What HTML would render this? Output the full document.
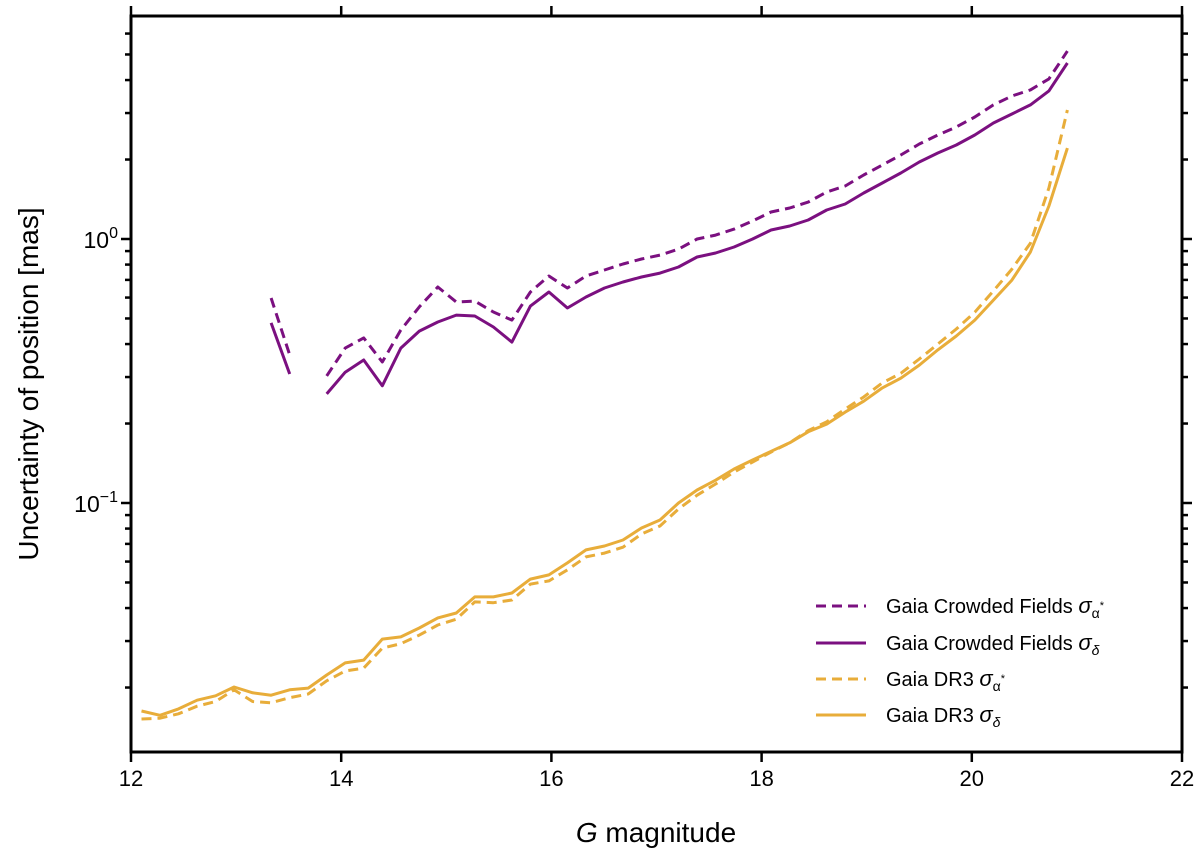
<!DOCTYPE html>
<html><head><meta charset="utf-8"><style>
html,body{margin:0;padding:0;background:#fff;}
svg{display:block;font-family:"Liberation Sans",sans-serif;}
</style></head><body>
<svg id="chart" width="1200" height="858" viewBox="0 0 1200 858" xmlns="http://www.w3.org/2000/svg">
<g id="marks"></g>
<g id="axes"></g>
<text x="656" y="842" font-size="28" text-anchor="middle"><tspan font-style="italic">G</tspan> magnitude</text>
<text transform="translate(38,384) rotate(-90)" font-size="28" text-anchor="middle">Uncertainty of position [mas]</text>
<g font-size="20">
  <line x1="816" y1="606" x2="866" y2="606" stroke="#7b1080" stroke-width="3" stroke-dasharray="10,6"/>
  <text x="886" y="613">Gaia Crowded Fields <tspan font-style="italic" font-size="22">σ</tspan><tspan font-size="14" dy="5">α</tspan><tspan font-size="11" dy="-9">*</tspan></text>
  <line x1="816" y1="643" x2="866" y2="643" stroke="#7b1080" stroke-width="3"/>
  <text x="886" y="650">Gaia Crowded Fields <tspan font-style="italic" font-size="22">σ</tspan><tspan font-style="italic" font-size="14" dy="5">δ</tspan></text>
  <line x1="816" y1="679" x2="866" y2="679" stroke="#e8ad3a" stroke-width="3" stroke-dasharray="10,6"/>
  <text x="886" y="686">Gaia DR3 <tspan font-style="italic" font-size="22">σ</tspan><tspan font-size="14" dy="5">α</tspan><tspan font-size="11" dy="-9">*</tspan></text>
  <line x1="816" y1="715" x2="866" y2="715" stroke="#e8ad3a" stroke-width="3"/>
  <text x="886" y="722">Gaia DR3 <tspan font-style="italic" font-size="22">σ</tspan><tspan font-style="italic" font-size="14" dy="5">δ</tspan></text>
</g>
</svg>
<script>
const magStart = 12.1;
const magStep = 0.1762;
const dr3Dec = [0.0163,0.0157,0.0166,0.0179,0.0186,0.0201,0.0191,0.0187,0.0196,0.0199,0.0223,0.0248,0.0254,0.0305,0.0311,0.0336,0.0367,0.0383,0.0441,0.0441,0.0456,0.0515,0.0534,0.0593,0.0664,0.0687,0.0724,0.0804,0.0862,0.1,0.112,0.122,0.1345,0.1455,0.157,0.169,0.186,0.199,0.221,0.243,0.273,0.297,0.333,0.380,0.429,0.493,0.587,0.699,0.893,1.334,2.21];
const dr3Ra = [0.0152,0.0153,0.0159,0.0170,0.0177,0.0196,0.0177,0.0175,0.0183,0.0189,0.0212,0.0231,0.0237,0.0282,0.0293,0.0316,0.0345,0.0363,0.0422,0.0419,0.0429,0.0493,0.0507,0.0558,0.0625,0.0646,0.068,0.0763,0.0818,0.0949,0.107,0.118,0.131,0.143,0.156,0.169,0.188,0.203,0.227,0.252,0.285,0.310,0.351,0.400,0.456,0.528,0.636,0.769,0.964,1.56,3.08];
const crowdedDec = [null,null,null,null,null,null,null,0.481,0.308,null,0.259,0.313,0.348,0.278,0.386,0.448,0.485,0.515,0.511,0.464,0.407,0.557,0.630,0.548,0.603,0.652,0.687,0.718,0.743,0.783,0.855,0.885,0.933,1.0,1.082,1.12,1.18,1.288,1.357,1.494,1.63,1.778,1.957,2.117,2.27,2.477,2.75,2.975,3.22,3.64,4.64];
const crowdedRa = [null,null,null,null,null,null,null,0.598,0.364,null,0.303,0.386,0.422,0.342,0.452,0.553,0.658,0.577,0.582,0.529,0.493,0.630,0.724,0.652,0.724,0.763,0.804,0.840,0.869,0.916,1.0,1.035,1.09,1.17,1.266,1.31,1.38,1.507,1.588,1.748,1.907,2.08,2.29,2.477,2.656,2.898,3.22,3.48,3.67,4.04,5.15];
const xTicks = [12,14,16,18,20,22];
const yMajorExp = [-1,0];

const L=131,R=1182,T=16,B=752;
const xMin=12,xMax=22;
const y0=239, dec=264;
function xs(v){return L+(v-xMin)/(xMax-xMin)*(R-L);}
function ys(v){return y0-Math.log10(v)*dec;}
const NS="http://www.w3.org/2000/svg";
const marks=document.getElementById('marks'), axes=document.getElementById('axes');
function mk(tag,attrs,parent){const e=document.createElementNS(NS,tag);for(const k in attrs)e.setAttribute(k,attrs[k]);parent.appendChild(e);return e;}

function drawSeries(arr,color,dash,name){
  let d='',pen=false;
  arr.forEach((v,i)=>{
    if(v==null){pen=false;return;}
    const x=xs(magStart+magStep*i),y=ys(v);
    d+=(pen?'L':'M')+x.toFixed(1)+','+y.toFixed(1);pen=true;
  });
  const p=mk('path',{d:d,fill:'none',stroke:color,'stroke-width':3,'stroke-linejoin':'round'},marks);
  if(dash)p.setAttribute('stroke-dasharray','10,6');
  
  
}
drawSeries(crowdedRa,'#7b1080',true,'line-crowded-sigma-ra');
drawSeries(crowdedDec,'#7b1080',false,'line-crowded-sigma-dec');
drawSeries(dr3Ra,'#e8ad3a',true,'line-dr3-sigma-ra');
drawSeries(dr3Dec,'#e8ad3a',false,'line-dr3-sigma-dec');

const frame=mk('rect',{x:L,y:T,width:R-L,height:B-T,fill:'none',stroke:'#000','stroke-width':3},axes);



xTicks.forEach(t=>{
  const x=xs(t);
  mk('line',{x1:x,y1:B,x2:x,y2:B+10,stroke:'#000','stroke-width':2.5},axes);
  mk('line',{x1:x,y1:T,x2:x,y2:T-10,stroke:'#000','stroke-width':2.5},axes);
  const tx=mk('text',{x:x,y:B+34,'font-size':22,'text-anchor':'middle'},axes);
  tx.textContent=t;
  
  
});
const yLo=Math.pow(10,(y0-B)/dec), yHi=Math.pow(10,(y0-T)/dec);
for(let e=-3;e<=1;e++){
  for(let m=1;m<=9;m++){
    const v=m*Math.pow(10,e);
    if(v<yLo||v>yHi)continue;
    const y=ys(v), len=(m===1)?10:6;
    mk('line',{x1:L,y1:y,x2:L-len,y2:y,stroke:'#000','stroke-width':2.5},axes);
    mk('line',{x1:R,y1:y,x2:R+len,y2:y,stroke:'#000','stroke-width':2.5},axes);
  }
}
yMajorExp.forEach(e=>{
  const y=ys(Math.pow(10,e));
  const tx=mk('text',{x:L-13,y:y+9,'font-size':23,'text-anchor':'end'},axes);
  
  
  const a=document.createElementNS(NS,'tspan');a.textContent='10';tx.appendChild(a);
  const b=document.createElementNS(NS,'tspan');b.setAttribute('dy','-10');b.setAttribute('font-size','16');b.textContent=(e<0?'\u2212':'')+Math.abs(e);tx.appendChild(b);
});
</script>
</body></html>
